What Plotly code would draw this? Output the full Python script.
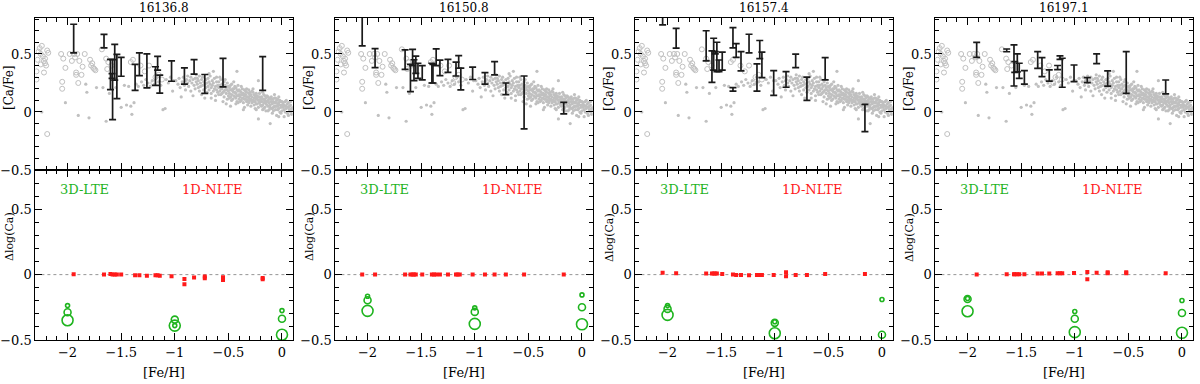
import plotly.graph_objects as go
from plotly.subplots import make_subplots

# ---------------- data ----------------
line_titles = ["16136.8", "16150.8", "16157.4", "16197.1"]
x_ticks = [-2, -1.5, -1, -0.5, 0]
y_ticks = [-0.5, 0, 0.5]

# background literature sample (grey, same in every panel)
bg_open_x = [-2.29, -2.29, -2.28, -2.27, -2.26, -2.25, -2.25, -2.24, -2.23, -2.22,
             -2.21, -2.21, -2.20, -2.22, -2.19, -2.18, -2.19, -2.06, -2.04, -2.02,
             -2.05, -2.05, -1.98, -1.96, -1.94, -1.93, -1.92, -1.92, -1.91, -1.90,
             -1.89, -1.87, -1.86, -1.84, -1.79, -1.78, -1.77, -1.76, -1.75, -1.74,
             -1.68, -1.64, -1.63, -1.62, -1.59, -1.41, -1.39, -1.32, -1.28, -1.24,
             -1.20, -1.18, -1.15, -1.12]
bg_open_y = [0.28, 0.35, 0.45, 0.52, 0.55, 0.50, 0.41, 0.57, 0.48, 0.44,
             0.42, 0.46, 0.40, 0.34, 0.53, 0.51, -0.19, 0.50, 0.46, 0.38,
             0.26, 0.20, 0.50, 0.44, 0.50, 0.47, 0.34, 0.32, 0.50, 0.25,
             0.44, 0.32, 0.39, 0.50, 0.45, 0.40, 0.42, 0.38, 0.37, 0.36,
             0.54, 0.46, 0.37, 0.43, 0.40, 0.43, 0.45, 0.40, 0.35, 0.40,
             0.25, 0.30, 0.32, 0.28]

bg_dot_x = [
    -2.24, -2.02, -1.90, -1.83, -1.82, -1.80, -1.73, -1.67, -1.64, -1.61,
    -1.55, -1.50, -1.47, -1.45, -1.43, -1.41, -1.40, -1.38, -1.36, -1.34,
    -1.31, -1.29, -1.27, -1.25, -1.23, -1.21, -1.19, -1.17, -1.15, -1.13,
    -1.11, -1.09, -1.08, -1.06, -1.04, -1.02, -1.01,
    -0.99, -0.97, -0.96, -0.95, -0.94, -0.93, -0.92, -0.91, -0.90, -0.90,
    -0.89, -0.88, -0.88, -0.87, -0.86, -0.85, -0.85, -0.84, -0.83, -0.83,
    -0.82, -0.81, -0.81, -0.80, -0.80,
    -0.79, -0.79, -0.78, -0.78, -0.77, -0.77, -0.76, -0.76, -0.75, -0.75,
    -0.74, -0.74, -0.73, -0.73, -0.72, -0.72, -0.71, -0.71, -0.70, -0.70,
    -0.69, -0.69, -0.68, -0.68, -0.67, -0.67, -0.66, -0.66, -0.65, -0.65,
    -0.64, -0.64, -0.63, -0.63, -0.62, -0.62, -0.61, -0.61, -0.60, -0.60,
    -0.68, -0.64, -0.62, -0.66, -0.61,
    -0.59, -0.59, -0.58, -0.58, -0.57, -0.57, -0.56, -0.56, -0.55, -0.55,
    -0.54, -0.54, -0.53, -0.53, -0.52, -0.52, -0.51, -0.51, -0.50, -0.50,
    -0.58, -0.55, -0.53, -0.56, -0.52, -0.50, -0.57, -0.54, -0.51, -0.59,
    -0.49, -0.49, -0.48, -0.48, -0.47, -0.47, -0.46, -0.46, -0.45, -0.45,
    -0.44, -0.44, -0.43, -0.43, -0.42, -0.42, -0.41, -0.41, -0.40, -0.40,
    -0.42, -0.48, -0.45, -0.43, -0.47, -0.44, -0.41, -0.46, -0.40, -0.49,
    -0.43, -0.45, -0.42, -0.48, -0.41,
    -0.39, -0.39, -0.38, -0.38, -0.37, -0.37, -0.36, -0.36, -0.35, -0.35,
    -0.34, -0.34, -0.33, -0.33, -0.32, -0.32, -0.31, -0.31, -0.30, -0.30,
    -0.38, -0.35, -0.33, -0.36, -0.31, -0.39, -0.34, -0.37, -0.32, -0.30,
    -0.36, -0.33, -0.38, -0.31, -0.35,
    -0.29, -0.29, -0.28, -0.28, -0.27, -0.27, -0.26, -0.26, -0.25, -0.25,
    -0.24, -0.24, -0.23, -0.23, -0.22, -0.22, -0.21, -0.21, -0.20, -0.20,
    -0.22, -0.22, -0.27, -0.25, -0.24, -0.28, -0.26, -0.23, -0.21, -0.29,
    -0.20, -0.25, -0.28, -0.24, -0.26,
    -0.19, -0.19, -0.18, -0.18, -0.17, -0.17, -0.16, -0.16, -0.15, -0.15,
    -0.14, -0.14, -0.13, -0.13, -0.12, -0.12, -0.11, -0.11, -0.10, -0.10,
    -0.11, -0.18, -0.15, -0.13, -0.17, -0.19, -0.14, -0.12, -0.16, -0.10,
    -0.18, -0.13, -0.15, -0.11, -0.17,
    -0.09, -0.09, -0.08, -0.08, -0.07, -0.07, -0.06, -0.06, -0.05, -0.05,
    -0.04, -0.04, -0.03, -0.03, -0.02, -0.02, -0.01, -0.01, 0.00, 0.00,
    -0.09, -0.07, -0.05, -0.03, -0.08, -0.06, -0.04, -0.02, -0.01, 0.00,
    -0.09, -0.06, -0.03, -0.07, -0.04,
    0.01, 0.01, 0.02, 0.02, 0.03, 0.03, 0.04, 0.04, 0.05, 0.05,
    0.06, 0.06, 0.07, 0.07, 0.08, 0.08, 0.09, 0.09, 0.10, 0.10,
    0.02, 0.04, 0.06, 0.08, 0.03,
]
bg_dot_y = [
    0.00, 0.08, -0.03, 0.24, 0.17, -0.05, 0.21, 0.21, -0.08, 0.16,
    0.21, 0.04, 0.23, 0.06, 0.22, 0.05, -0.02, 0.08, 0.24, 0.22,
    0.26, 0.23, 0.28, 0.25, 0.22, 0.27, 0.24, 0.30, 0.26, 0.23,
    0.02, 0.03, 0.28, 0.25, 0.30, 0.18, 0.27,
    0.27, 0.24, 0.29, 0.21, 0.13, 0.26, 0.30, 0.23, 0.27, 0.19,
    0.28, 0.25, 0.31, 0.22, 0.27, 0.30, 0.18, 0.25, 0.28, 0.14,
    0.23, 0.29, 0.20, 0.26, 0.32,
    0.24, 0.29, 0.21, 0.27, 0.31, 0.18, 0.25, 0.22, 0.28, 0.15,
    0.23, 0.30, 0.26, 0.19, 0.24, 0.12, 0.21, 0.28, 0.25, 0.17,
    0.22, 0.29, 0.19, 0.26, 0.24, 0.31, 0.16, 0.21, 0.27, 0.23,
    0.18, 0.25, 0.20, 0.29, 0.22, 0.14, 0.26, 0.19, 0.23, 0.17,
    0.33, 0.35, 0.10, 0.12, 0.30,
    0.21, 0.26, 0.18, 0.23, 0.15, 0.28, 0.20, 0.24, 0.17, 0.22,
    0.26, 0.13, 0.19, 0.23, 0.16, 0.21, 0.25, 0.11, 0.18, 0.14,
    0.30, 0.09, 0.28, 0.16, 0.07, 0.22, 0.20, 0.18, 0.19, 0.15,
    0.16, 0.21, 0.13, 0.19, 0.24, 0.15, 0.18, 0.11, 0.20, 0.14,
    0.17, 0.22, 0.12, 0.16, 0.19, 0.09, 0.14, 0.18, 0.15, 0.11,
    0.35, 0.05, 0.26, 0.21, 0.10, 0.13, 0.23, 0.20, 0.19, 0.12,
    0.07, 0.17, 0.14, 0.23, 0.08,
    0.13, 0.18, 0.10, 0.15, 0.20, 0.12, 0.16, 0.08, 0.14, 0.19,
    0.11, 0.15, 0.09, 0.17, 0.13, 0.06, 0.12, 0.16, 0.10, 0.14,
    0.22, 0.04, 0.20, 0.12, 0.08, 0.09, 0.18, 0.15, 0.10, 0.17,
    0.02, 0.13, 0.17, 0.19, 0.11,
    0.11, 0.15, 0.08, 0.13, 0.17, 0.10, 0.12, 0.06, 0.14, 0.09,
    0.11, 0.16, 0.07, 0.12, 0.10, 0.04, 0.13, 0.08, 0.11, 0.06,
    0.27, -0.06, 0.20, 0.03, 0.07, 0.18, 0.15, 0.14, 0.16, 0.05,
    0.09, 0.12, 0.10, 0.02, 0.09,
    0.09, 0.13, 0.06, 0.11, 0.15, 0.08, 0.10, 0.04, 0.12, 0.07,
    0.09, 0.14, 0.05, 0.10, 0.08, 0.02, 0.11, 0.06, 0.09, 0.03,
    -0.10, 0.17, 0.01, 0.13, 0.03, 0.05, 0.06, 0.12, 0.14, 0.13,
    0.02, 0.01, 0.09, 0.04, 0.11,
    0.07, 0.11, 0.04, 0.09, 0.12, 0.05, 0.08, 0.02, 0.10, 0.05,
    0.07, 0.11, 0.03, 0.08, 0.06, 0.00, 0.09, 0.04, 0.06, 0.01,
    -0.01, 0.15, -0.03, 0.13, 0.01, 0.12, 0.02, 0.10, -0.01, 0.09,
    0.03, 0.05, -0.04, 0.08, 0.05,
    0.04, 0.08, 0.02, 0.06, 0.09, 0.00, 0.05, 0.03, 0.07, -0.01,
    0.04, 0.08, 0.02, 0.05, 0.00, 0.06, 0.03, -0.02, 0.04, 0.01,
    -0.04, 0.10, -0.03, 0.09, 0.05,
]

# programme stars: [Fe/H], [Ca/Fe], error  (one list per line)
p1_feh = [-1.943, -1.66, -1.60, -1.58, -1.585, -1.56, -1.54, -1.50, -1.37, -1.33,
          -1.26, -1.18, -1.16, -1.14, -1.03, -0.91, -0.82, -0.72, -0.55, -0.18]
p1_ca = [0.633, 0.611, 0.323, 0.193, 0.31, 0.428, 0.306, 0.389, 0.299, 0.412,
         0.354, 0.31, 0.42, 0.24, 0.353, 0.31, 0.389, 0.242, 0.339, 0.332]
p1_err = [0.123, 0.058, 0.13, 0.259, 0.02, 0.154, 0.19, 0.081, 0.112, 0.098,
          0.147, 0.08, 0.06, 0.077, 0.088, 0.07, 0.063, 0.081, 0.123, 0.145]

p2_feh = [-2.05, -1.93, -1.65, -1.60, -1.58, -1.567, -1.55, -1.53, -1.49, -1.40,
          -1.39, -1.36, -1.325, -1.25, -1.175, -1.15, -1.13, -1.02, -0.905, -0.815,
          -0.71, -0.54, -0.17]
p2_ca = [0.76, 0.464, 0.452, 0.293, 0.47, 0.36, 0.407, 0.355, 0.338, 0.335,
         0.33, 0.472, 0.38, 0.398, 0.37, 0.431, 0.284, 0.333, 0.29, 0.377,
         0.20, 0.082, 0.033]
p2_err = [0.19, 0.082, 0.084, 0.118, 0.07, 0.09, 0.074, 0.065, 0.062, 0.085,
          0.08, 0.072, 0.067, 0.056, 0.06, 0.054, 0.094, 0.053, 0.05, 0.057,
          0.05, 0.228, 0.05]

p3_feh = [-2.046, -1.92, -1.64, -1.586, -1.57, -1.555, -1.54, -1.52, -1.49, -1.39,
          -1.39, -1.36, -1.315, -1.24, -1.166, -1.14, -1.12, -1.01, -0.895, -0.805,
          -0.70, -0.53, -0.159]
p3_ca = [0.85, 0.635, 0.57, 0.391, 0.4985, 0.51, 0.474, 0.398, 0.438, 0.64,
         0.195, 0.53, 0.437, 0.59, 0.297, 0.538, 0.406, 0.25, 0.28, 0.44,
         0.20, 0.372, -0.052]
p3_err = [0.10, 0.085, 0.13, 0.135, 0.137, 0.01, 0.127, 0.05, 0.078, 0.087,
          0.015, 0.06, 0.083, 0.08, 0.117, 0.078, 0.11, 0.106, 0.067, 0.058,
          0.10, 0.096, 0.118]

p4_feh = [-1.915, -1.635, -1.567, -1.56, -1.536, -1.518, -1.47, -1.346, -1.306, -1.238,
          -1.16, -1.138, -1.117, -1.007, -0.883, -0.796, -0.693, -0.52, -0.152]
p4_ca = [0.535, 0.531, 0.401, 0.388, 0.4235, 0.355, 0.298, 0.4485, 0.3865, 0.3145,
         0.3825, 0.4685, 0.338, 0.333, 0.2745, 0.458, 0.2885, 0.34, 0.2155]
p4_err = [0.065, 0.012, 0.177, 0.046, 0.077, 0.065, 0.058, 0.072, 0.082, 0.048,
          0.018, 0.015, 0.125, 0.072, 0.022, 0.042, 0.065, 0.18, 0.06]

# 1D-NLTE corrections (red squares)
n1_feh = [-1.943, -1.66, -1.60, -1.58, -1.56, -1.54, -1.50, -1.37, -1.33, -1.26,
          -1.18, -1.16, -1.14, -1.03, -0.91, -0.91, -0.82, -0.72, -0.72, -0.55,
          -0.55, -0.18, -0.18]
n1_d = [0.003, 0.0, 0.005, 0.0, 0.0, 0.0, 0.0, -0.005, -0.005, -0.008,
        -0.005, -0.005, -0.008, -0.012, -0.033, -0.074, -0.022, -0.015, -0.028, -0.02,
        -0.042, -0.025, -0.035]
n2_feh = [-2.05, -1.93, -1.65, -1.60, -1.58, -1.567, -1.55, -1.49, -1.40, -1.38,
          -1.36, -1.325, -1.25, -1.175, -1.16, -1.14, -1.02, -0.905, -0.815, -0.71,
          -0.54, -0.17]
n2_d = [0.0] * 22
n3_feh = [-2.046, -1.92, -1.64, -1.586, -1.57, -1.555, -1.54, -1.49, -1.39, -1.36,
          -1.315, -1.24, -1.166, -1.14, -1.12, -1.01, -0.895, -0.895, -0.805, -0.70,
          -0.53, -0.159]
n3_d = [0.015, 0.01, 0.008, 0.008, 0.008, 0.008, 0.008, 0.005, 0.0, -0.003,
        -0.003, -0.005, -0.003, -0.003, -0.003, -0.003, 0.018, -0.013, -0.003, -0.002,
        0.005, 0.005]
n4_feh = [-1.915, -1.635, -1.567, -1.56, -1.536, -1.518, -1.47, -1.346, -1.306, -1.238,
          -1.16, -1.138, -1.117, -1.007, -0.883, -0.883, -0.796, -0.693, -0.693, -0.52,
          -0.52, -0.152]
n4_d = [0.0, 0.003, 0.003, 0.003, 0.003, 0.003, 0.003, 0.008, 0.008, 0.008,
        0.01, 0.01, 0.01, 0.013, 0.02, -0.036, 0.015, 0.018, 0.01, 0.018,
        0.01, 0.01]

# 3D-LTE corrections (green circles) at three model metallicities
lte_feh = [-2, -1, 0]
l1_small = [-0.237, -0.39, -0.275]
l1_med = [-0.288, -0.344, -0.338]
l1_large = [-0.349, -0.39, -0.46]
l2_small = [-0.165, -0.254, -0.155]
l2_med = [-0.196, -0.285, -0.25]
l2_large = [-0.277, -0.377, -0.38]
l3_small = [-0.237, -0.361, -0.19]
l3_med = [-0.262, -0.369, -0.46]
l3_large = [-0.308, -0.448, None]
l4_small = [-0.183, -0.282, -0.198]
l4_med = [-0.186, -0.338, -0.293]
l4_large = [-0.28, -0.44, -0.445]

# ---------------- figure ----------------
stars = [(p1_feh, p1_ca, p1_err), (p2_feh, p2_ca, p2_err),
         (p3_feh, p3_ca, p3_err), (p4_feh, p4_ca, p4_err)]
nlte = [(n1_feh, n1_d), (n2_feh, n2_d), (n3_feh, n3_d), (n4_feh, n4_d)]
lte = [(l1_small, l1_med, l1_large), (l2_small, l2_med, l2_large),
       (l3_small, l3_med, l3_large), (l4_small, l4_med, l4_large)]

W, H = 1200, 384
fig = make_subplots(rows=2, cols=4)

GREY = "rgb(192,192,192)"
GREEN = "#1fb41f"
RED = "#ff1a1a"
FONT = "DejaVu Serif"

for i in range(4):
    c = i + 1
    fig.add_trace(go.Scatter(x=bg_dot_x, y=bg_dot_y, mode="markers",
                             marker=dict(size=3.2, color=GREY, line=dict(width=0))),
                  row=1, col=c)
    fig.add_trace(go.Scatter(x=bg_open_x, y=bg_open_y, mode="markers",
                             marker=dict(symbol="circle-open", size=5, color=GREY,
                                         line=dict(width=1, color=GREY))),
                  row=1, col=c)
    fx, fy, fe = stars[i]
    fig.add_trace(go.Scatter(x=fx, y=fy, mode="markers",
                             marker=dict(size=1, opacity=0),
                             error_y=dict(type="data", array=fe, symmetric=True,
                                          color="#1a1a1a", thickness=1.7, width=3.5)),
                  row=1, col=c)
    nx, nd = nlte[i]
    fig.add_trace(go.Scatter(x=nx, y=nd, mode="markers",
                             marker=dict(symbol="square", size=4, color=RED,
                                         line=dict(width=0))),
                  row=2, col=c)
    for arr, sz in zip(lte[i], (4, 7, 11)):
        fig.add_trace(go.Scatter(x=lte_feh, y=arr, mode="markers",
                                 marker=dict(symbol="circle-open", size=sz, color=GREEN,
                                             line=dict(width=1.6, color=GREEN))),
                      row=2, col=c)

common = dict(showline=True, linecolor="black", linewidth=1, mirror="allticks",
              ticks="inside", ticklen=7, tickwidth=1, tickcolor="black",
              showgrid=False, zeroline=False, automargin=False,
              tickfont=dict(family=FONT, size=13, color="black"),
              minor=dict(ticks="inside", ticklen=4, tickwidth=1, tickcolor="black",
                         dtick=0.1, tick0=0, showgrid=False))

top_dom = [1 - 170 / H, 1 - 18 / H]
bot_dom = [1 - 340 / H, 1 - 170 / H]

annotations = []
shapes = []
for i in range(4):
    left = (35.4 + 300 * i) / W
    right = (292.7 + 300 * i) / W
    xa_top = "xaxis" if i == 0 else f"xaxis{i + 1}"
    ya_top = "yaxis" if i == 0 else f"yaxis{i + 1}"
    xa_bot = f"xaxis{i + 5}"
    ya_bot = f"yaxis{i + 5}"
    fig.layout[xa_top].update(domain=[left, right], range=[-2.3, 0.1],
                              tickvals=x_ticks, showticklabels=False, **common)
    fig.layout[xa_bot].update(domain=[left, right], range=[-2.3, 0.1],
                              tickvals=x_ticks, showticklabels=True, **common)
    fig.layout[ya_top].update(domain=top_dom, range=[-0.5, 0.81],
                              tickvals=y_ticks, **common)
    fig.layout[ya_bot].update(domain=bot_dom, range=[-0.5, 0.8],
                              tickvals=y_ticks, **common)
    cx = (left + right) / 2
    annotations.append(dict(text=line_titles[i], xref="paper", yref="paper",
                            x=cx, y=1 - 8 / H, showarrow=False,
                            font=dict(family=FONT, size=12, color="black"),
                            xanchor="center", yanchor="middle"))
    annotations.append(dict(text="[Fe/H]", xref="paper", yref="paper",
                            x=cx, y=1 - 372 / H, showarrow=False,
                            font=dict(family=FONT, size=13, color="black"),
                            xanchor="center", yanchor="middle"))
    annotations.append(dict(text="[Ca/Fe]", xref="paper", yref="paper",
                            x=(9 + 300 * i) / W, y=1 - 88 / H, showarrow=False,
                            textangle=-90,
                            font=dict(family=FONT, size=12, color="black"),
                            xanchor="center", yanchor="middle"))
    annotations.append(dict(text="Δlog(Ca)", xref="paper", yref="paper",
                            x=(9 + 300 * i) / W, y=1 - 237 / H, showarrow=False,
                            textangle=-90,
                            font=dict(family=FONT, size=11, color="black"),
                            xanchor="center", yanchor="middle"))
    xr = f"x{i + 5}"
    yr = f"y{i + 5}"
    annotations.append(dict(text="3D-LTE", xref=xr, yref=yr, x=-1.84, y=0.65,
                            showarrow=False, font=dict(family=FONT, size=13, color=GREEN)))
    annotations.append(dict(text="1D-NLTE", xref=xr, yref=yr, x=-0.65, y=0.65,
                            showarrow=False, font=dict(family=FONT, size=13, color=RED)))
    shapes.append(dict(type="line", xref=f"x{i + 5} domain", yref=yr,
                       x0=0, x1=1, y0=0, y1=0,
                       line=dict(color="rgb(150,150,150)", width=1, dash="dot"),
                       layer="below"))

fig.update_layout(width=W, height=H,
                  margin=dict(l=0, r=0, t=0, b=0, pad=0, autoexpand=False),
                  paper_bgcolor="white", plot_bgcolor="white", showlegend=False,
                  annotations=annotations, shapes=shapes)

page_fix = (
    "var de=document.documentElement, bd=document.body;"
    "de.style.margin='0'; de.style.padding='0'; de.style.overflow='hidden';"
    "bd.style.margin='0'; bd.style.padding='0'; bd.style.overflow='hidden';"
)
fig.write_html("out.html", config={"displayModeBar": False}, post_script=page_fix)
